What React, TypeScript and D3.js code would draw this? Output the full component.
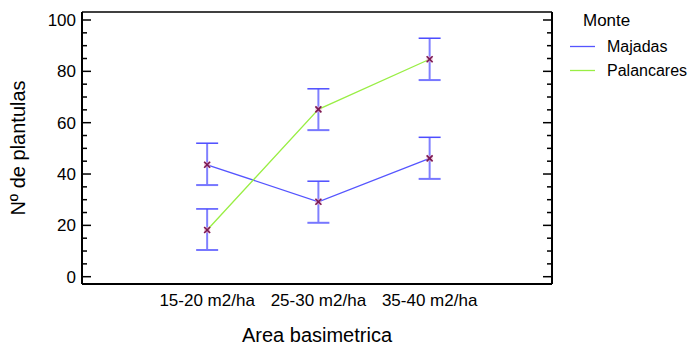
import React from "react";
import * as d3 from "d3";

// categories on the x axis
const areas = ["15-20 m2/ha", "25-30 m2/ha", "35-40 m2/ha"];
// mean number of seedlings per group, with the upper/lower interval limits
const majadasMean = [43.6, 29.2, 46.1];
const majadasHi = [52.0, 37.2, 54.3];
const majadasLo = [35.7, 21.0, 38.1];
const palancaresMean = [18.2, 65.2, 84.7];
const palancaresHi = [26.4, 73.2, 92.9];
const palancaresLo = [10.4, 57.1, 76.6];
const yTicks = [0, 20, 40, 60, 80, 100];
const legendItems = ["Majadas", "Palancares"];
const legendColors = ["#5555ff", "#99ee44"];

const W = 694;
const H = 346;
const margin = { top: 12, right: 142, bottom: 62, left: 82 };
const FONT = "Liberation Sans, Arial, sans-serif";

export default function App() {
  const x = d3.scaleLinear().domain([-1.125, 3.1]).range([margin.left, W - margin.right]);
  const y = d3.scaleLinear().domain([0, 100]).range([276.7, 20]);
  const minor = d3.range(0, 101, 5);

  const series = [
    { name: legendItems[0], color: legendColors[0], mean: majadasMean, hi: majadasHi, lo: majadasLo },
    { name: legendItems[1], color: legendColors[1], mean: palancaresMean, hi: palancaresHi, lo: palancaresLo },
  ];

  const line = d3
    .line<number>()
    .x((_, i) => x(i))
    .y((d) => y(d));

  const left = margin.left;
  const right = W - margin.right;
  const top = margin.top;
  const bottom = H - margin.bottom; // 284

  return (
    <svg width={W} height={H} style={{ position: "absolute", left: 0, top: 0, background: "#fff" }} fontFamily={FONT}>
      {/* axis ticks, left and right, pointing inward */}
      {minor.map((v) => {
        const major = v % 20 === 0;
        const len = major ? 9 : 5;
        return (
          <g key={v} stroke="#000" strokeWidth={1.5}>
            <line x1={left} x2={left + len} y1={y(v)} y2={y(v)} />
            <line x1={right} x2={right - len} y1={y(v)} y2={y(v)} />
          </g>
        );
      })}
      {yTicks.map((v) => (
        <text key={v} x={left - 6} y={y(v)} dy="0.36em" textAnchor="end" fontSize={17} fill="#000">
          {v}
        </text>
      ))}
      {/* frame */}
      <line x1={left} x2={right} y1={top} y2={top} stroke="#000" strokeWidth={1.5} />
      <line x1={left} x2={right} y1={bottom} y2={bottom} stroke="#000" strokeWidth={2} />
      <line x1={left} x2={left} y1={top} y2={bottom} stroke="#000" strokeWidth={2} />
      <line x1={right} x2={right} y1={top} y2={bottom} stroke="#000" strokeWidth={2} />

      {areas.map((a, i) => (
        <text key={a} x={x(i)} y={306} textAnchor="middle" fontSize={17} fill="#000">
          {a}
        </text>
      ))}
      <text x={(left + right) / 2} y={342} textAnchor="middle" fontSize={20} fill="#000">
        Area basimetrica
      </text>
      <text transform={`translate(25,${(top + bottom) / 2}) rotate(-90)`} textAnchor="middle" fontSize={20} fill="#000">
        Nº de plantulas
      </text>

      {/* error bars */}
      {series.map((s) =>
        s.mean.map((_, i) => (
          <g key={s.name + i}>
            <line x1={x(i)} x2={x(i)} y1={y(s.hi[i])} y2={y(s.lo[i])} stroke="#8080ff" strokeWidth={2} />
            <line x1={x(i) - 11} x2={x(i) + 11} y1={y(s.hi[i])} y2={y(s.hi[i])} stroke="#4d4dff" strokeWidth={1.5} />
            <line x1={x(i) - 11} x2={x(i) + 11} y1={y(s.lo[i])} y2={y(s.lo[i])} stroke="#7777ff" strokeWidth={2} />
          </g>
        ))
      )}
      {/* mean lines */}
      {series.map((s) => (
        <path key={s.name} d={line(s.mean) || ""} fill="none" stroke={s.color} strokeWidth={1.3} />
      ))}
      {/* markers */}
      {series.map((s) =>
        s.mean.map((m, i) => (
          <g key={"m" + s.name + i}>
            <rect x={x(i) - 3} y={y(m) - 3} width={6} height={6} fill="#e8a0c0" opacity={0.6} />
            <g stroke="#7a1850" strokeWidth={1.6}>
              <line x1={x(i) - 3} x2={x(i) + 3} y1={y(m) - 3} y2={y(m) + 3} />
              <line x1={x(i) - 3} x2={x(i) + 3} y1={y(m) + 3} y2={y(m) - 3} />
            </g>
          </g>
        ))
      )}

      {/* legend */}
      <text x={583} y={26} fontSize={17} fill="#000">
        Monte
      </text>
      {series.map((s, i) => (
        <g key={"l" + s.name}>
          <line x1={570} x2={595} y1={46.5 + i * 24} y2={46.5 + i * 24} stroke={s.color} strokeWidth={1.3} />
          <text x={607} y={46.5 + i * 24} dy="0.36em" fontSize={16} fill="#000">
            {s.name}
          </text>
        </g>
      ))}
    </svg>
  );
}
